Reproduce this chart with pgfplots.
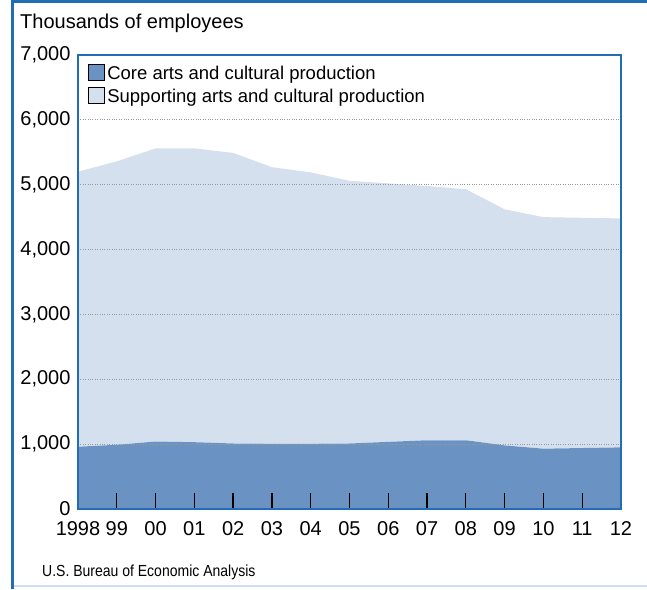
\documentclass[border=0pt]{standalone}
\usepackage{fontspec}
\setmainfont{Liberation Sans}
\usepackage{pgfplots}
\pgfplotsset{compat=1.18}

\definecolor{corefill}{HTML}{6A93C4}
\definecolor{suppfill}{HTML}{D5E0EE}
\definecolor{axisblue}{HTML}{216EB4}
\definecolor{framelight}{HTML}{CBE1F3}

\begin{document}
\begin{tikzpicture}[x=1pt,y=1pt]
\useasboundingbox (0,0) rectangle (647,589);
\fill[white] (0,0) rectangle (647,589);
% outer frame
\draw[axisblue, line width=3pt] (12,0) -- (12,587.5) -- (647,587.5);
\draw[framelight, line width=2pt] (13.5,3) -- (647,3);
\node[anchor=base west, inner sep=0pt, font=\fontsize{20}{24}\selectfont] at (20,560) {Thousands of employees};
\node[anchor=base west, inner sep=0pt, font=\fontsize{16}{18}\selectfont] at (42,13) {\scalebox{0.875}[1]{U.S. Bureau of Economic Analysis}};

\begin{axis}[
  at={(78pt,80pt)}, anchor=south west,
  scale only axis, width=543pt, height=454pt,
  xmin=1998, xmax=2012, ymin=0, ymax=7000,
  stack plots=y, area style,
  axis on top,
  axis line style={axisblue, line width=2.8pt},
  xtick={1998,...,2012},
  xticklabels={1998,99,00,01,02,03,04,05,06,07,08,09,10,11,12},
  ytick={0,1000,...,7000},
  /pgf/number format/.cd, 1000 sep={,}, assume math mode=true, /pgfplots/.cd,
  tick label style={font=\fontsize{20}{24}\selectfont},
  x tick label style={yshift=-9.5pt},
  y tick label style={xshift=-4pt},
  tick align=inside,
  tick pos=left,
  major tick length=16pt,
  x tick style={black, line width=1.3pt},
  y tick style={draw=none},
  ymajorgrids,
  major grid style={gray!80, dotted, line width=0.9pt},
  legend cell align=left,
  legend style={draw=none, fill=none, at={(0.012,0.985)}, anchor=north west,
    font=\fontsize{18.5}{22}\selectfont, row sep=4pt,
    nodes={inner xsep=3pt}},
  legend image code/.code={\draw[#1, draw=black, line width=0.6pt] (0pt,-7pt) rectangle (16pt,9pt);},
]
\addplot[fill=corefill, draw=none] coordinates {
  (1998,960) (1999,990) (2000,1040) (2001,1030) (2002,1010) (2003,1005) (2004,1005)
  (2005,1010) (2006,1035) (2007,1060) (2008,1060) (2009,980) (2010,930) (2011,940) (2012,950)
} \closedcycle;
\addlegendentry{Core arts and cultural production}
\addplot[fill=suppfill, draw=none] coordinates {
  (1998,4240) (1999,4370) (2000,4520) (2001,4530) (2002,4480) (2003,4265) (2004,4185)
  (2005,4050) (2006,3985) (2007,3920) (2008,3870) (2009,3640) (2010,3570) (2011,3550) (2012,3530)
} \closedcycle;
\addlegendentry{Supporting arts and cultural production}
\end{axis}
\end{tikzpicture}
\end{document}
